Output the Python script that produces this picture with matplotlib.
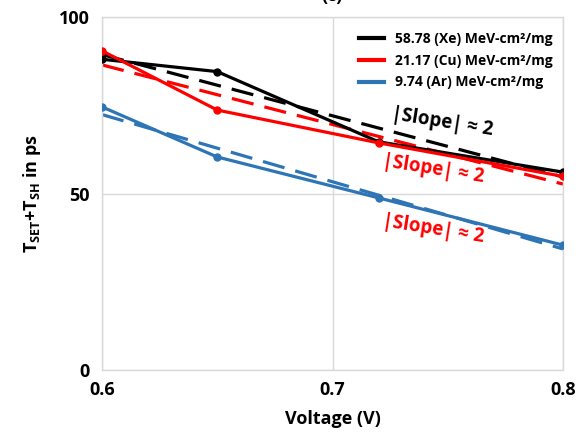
import numpy as np
import matplotlib
matplotlib.use("Agg")
import matplotlib.pyplot as plt
from matplotlib.lines import Line2D

# SET+SH pulse width vs supply voltage for three ion LETs
voltage = [0.6, 0.65, 0.72, 0.8]
t_xe = [88.1, 84.6, 64.7, 56.1]
t_cu = [90.5, 73.7, 64.4, 54.9]
t_ar = [74.6, 60.4, 48.8, 35.4]
labels = ["58.78 (Xe) MeV-cm\u00b2/mg", "21.17 (Cu) MeV-cm\u00b2/mg", "9.74 (Ar) MeV-cm\u00b2/mg"]
colors = ["#000000", "#FF0000", "#2E75B6"]
x_ticks = [0.6, 0.7, 0.8]
y_ticks = [0, 50, 100]

FONT = ["Open Sans", "DejaVu Sans"]
plt.rcParams["font.family"] = FONT
plt.rcParams["font.weight"] = "bold"
plt.rcParams["mathtext.fontset"] = "custom"
plt.rcParams["mathtext.rm"] = "Open Sans:bold"
plt.rcParams["mathtext.bf"] = "Open Sans:bold"
plt.rcParams["mathtext.default"] = "bf"

fig = plt.figure(figsize=(5.77, 4.36), dpi=100)
ax = fig.add_axes([102 / 577, 1 - 370 / 436, 461 / 577, 352.7 / 436])

vx = np.array(voltage)
for ys, c in zip([t_xe, t_cu, t_ar], colors):
    ax.plot(voltage, ys, "-o", color=c, lw=2.3, ms=5, zorder=3)
    # linear trendline over the measured points
    k, b = np.polyfit(vx, ys, 1)
    ax.plot([vx[0], vx[-1]], [k * vx[0] + b, k * vx[-1] + b], color=c, lw=2.3,
            dashes=(7, 3.5), zorder=2)

ax.set_xlim(0.6, 0.8)
ax.set_ylim(0, 100)
ax.set_xticks(x_ticks)
ax.set_xticklabels([str(t) for t in x_ticks])
ax.set_yticks(y_ticks)
ax.tick_params(length=0, labelsize=13, pad=9)
ax.tick_params(axis="x", pad=8)
ax.grid(color="#D9D9D9", lw=1)
for s in ax.spines.values():
    s.set_color("#D9D9D9")
    s.set_linewidth(1)

ax.set_xlabel("Voltage (V)", fontsize=13, fontweight="bold", labelpad=8)
ax.set_ylabel(r"T$_{SET}$+T$_{SH}$ in ps", fontsize=13, fontweight="bold", labelpad=11)

handles = [Line2D([], [], color=c, lw=3) for c in colors]
ax.legend(handles, labels, loc="upper left", bbox_to_anchor=(0.558, 0.958), frameon=False,
          fontsize=10, handlelength=1.8, handletextpad=0.75, labelspacing=0.55,
          borderpad=0, borderaxespad=0)

slope_txt = "|Slope| \u2248 2"
for (sx, sy), c in zip([(0.7475, 70.4), (0.7435, 57.0), (0.7435, 39.8)],
                       ["#000000", "#FF0000", "#FF0000"]):
    ax.text(sx, sy, slope_txt, color=c, fontsize=13.5, fontweight="bold",
            rotation=-9, ha="center", va="center", rotation_mode="anchor")

fig.text(332 / 577, 1 - 1 / 436, "(c)", fontsize=13, ha="center", va="baseline")

fig.savefig("out.png", dpi=100)
